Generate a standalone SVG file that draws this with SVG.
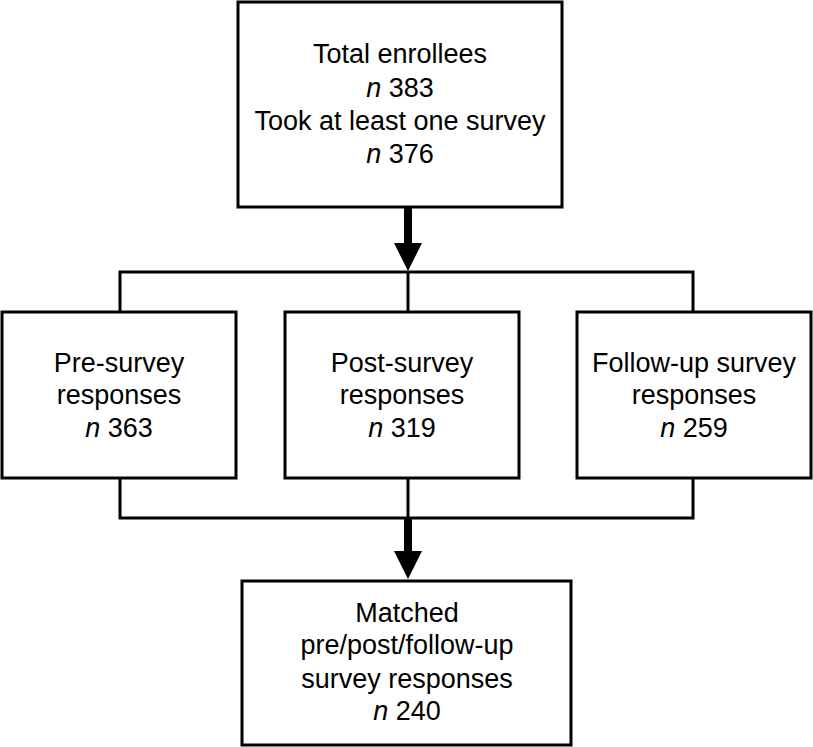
<svg xmlns="http://www.w3.org/2000/svg" width="813" height="747" viewBox="0 0 813 747">
<style>
.box{fill:#fff;stroke:#000;stroke-width:3}
.ln{fill:none;stroke:#000;stroke-width:3}
.thick{fill:none;stroke:#000;stroke-width:8;marker-end:url(#ah)}
text{font-family:"Liberation Sans",Arial,sans-serif;font-size:27px;fill:#000;text-anchor:middle}
.it{font-style:italic}
</style>
<defs>
<marker id="ah" markerUnits="userSpaceOnUse" markerWidth="28" markerHeight="28" viewBox="0 0 28 28" refX="0" refY="14" orient="auto">
<path d="M0,0 L28,14 L0,28 Z" fill="#000"/>
</marker>
</defs>
<g id="connectors">
<line class="thick" x1="408" y1="207" x2="408" y2="243"/>
<path class="ln" d="M120,312 V272 H693 V312"/>
<line class="ln" x1="408" y1="272" x2="408" y2="312"/>
<path class="ln" d="M120,478 V518 H693 V478"/>
<line class="ln" x1="408" y1="478" x2="408" y2="518"/>
<line class="thick" x1="408" y1="518" x2="408" y2="551"/>
</g>
<g id="n-total">
<rect class="box" x="238" y="2" width="324" height="205"/>
<text x="400" y="63">Total enrollees</text>
<text x="400" y="97"><tspan class="it">n</tspan> 383</text>
<text x="400" y="130">Took at least one survey</text>
<text x="400" y="163"><tspan class="it">n</tspan> 376</text>
</g>
<g id="n-pre">
<rect class="box" x="2" y="312" width="234" height="166"/>
<text x="119" y="372">Pre-survey</text>
<text x="119" y="404">responses</text>
<text x="119" y="437"><tspan class="it">n</tspan> 363</text>
</g>
<g id="n-post">
<rect class="box" x="285" y="312" width="234" height="166"/>
<text x="402" y="372">Post-survey</text>
<text x="402" y="404">responses</text>
<text x="402" y="437"><tspan class="it">n</tspan> 319</text>
</g>
<g id="n-follow">
<rect class="box" x="577" y="312" width="234" height="166"/>
<text x="694" y="372">Follow-up survey</text>
<text x="694" y="404">responses</text>
<text x="694" y="437"><tspan class="it">n</tspan> 259</text>
</g>
<g id="n-matched">
<rect class="box" x="242" y="581" width="329" height="164"/>
<text x="407" y="622">Matched</text>
<text x="407" y="654">pre/post/follow-up</text>
<text x="407" y="688">survey responses</text>
<text x="407" y="720"><tspan class="it">n</tspan> 240</text>
</g>
</svg>
